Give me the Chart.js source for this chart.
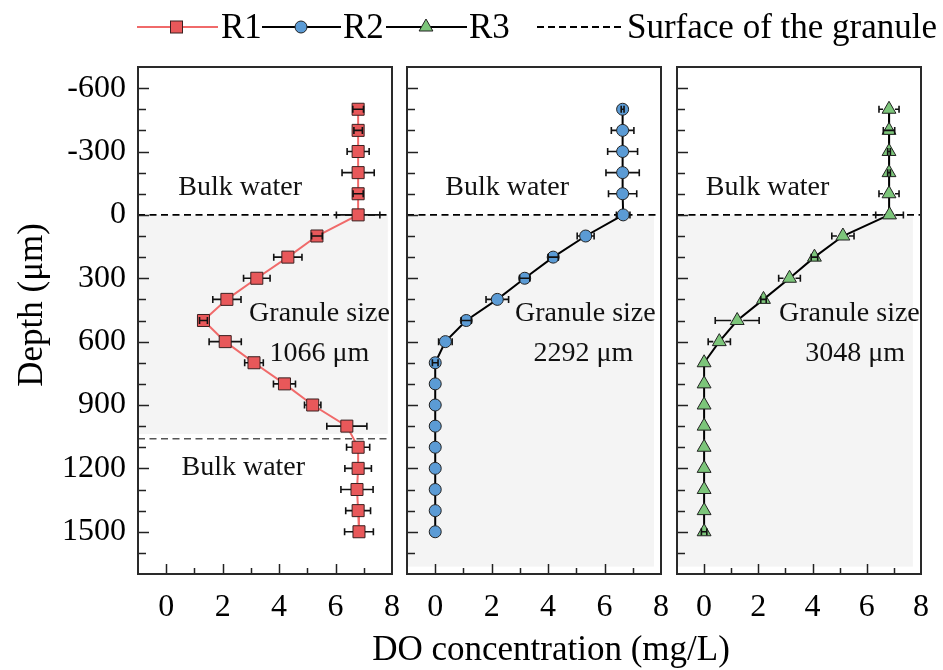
<!DOCTYPE html>
<html><head><meta charset="utf-8">
<script src="https://cdn.jsdelivr.net/npm/chart.js@4.4.0/dist/chart.umd.min.js"></script>
<style>
html,body{margin:0;padding:0;background:#fff;}
#wrap{position:relative;width:943px;height:670px;overflow:hidden;}
#wrap canvas{position:absolute;left:0;top:0;}
</style></head><body>
<div id="wrap">
<canvas id="c1" width="943" height="670"></canvas>
<canvas id="c2" width="943" height="670"></canvas>
<canvas id="c3" width="943" height="670"></canvas>
</div>
<script>
// ---------- data ----------
const depths = [-500,-400,-300,-200,-100,0,100,200,300,400,500,600,700,800,900,1000,1100,1200,1300,1400,1500];
const r1DO  = [6.80,6.80,6.80,6.80,6.80,6.80,5.34,4.31,3.21,2.15,1.32,2.09,3.11,4.19,5.19,6.40,6.80,6.80,6.76,6.80,6.83];
const r1Err = [0.19,0.15,0.39,0.57,0.18,0.77,0.19,0.50,0.47,0.50,0.14,0.57,0.33,0.39,0.29,0.71,0.41,0.47,0.57,0.44,0.51];
const r2DO  = [6.64,6.64,6.64,6.64,6.64,6.66,5.33,4.18,3.17,2.20,1.10,0.36,0,0,0,0,0,0,0,0,0];
const r2Err = [0.05,0.40,0.53,0.59,0.50,0.24,0.30,0.18,0.18,0.40,0.18,0.24,0.10,0,0,0,0,0,0,0,0];
const r3DO  = [6.82,6.82,6.82,6.82,6.82,6.84,5.12,4.07,3.15,2.19,1.22,0.56,0,0,0,0,0,0,0,0,0];
const r3Err = [0.37,0.21,0.05,0.05,0.37,0.51,0.41,0.12,0.40,0.10,0.81,0.41,0,0,0,0,0,0,0,0,0.10];
const r1Surfaces = [0, 1060];
const r2Surfaces = [0];
const r3Surfaces = [0];
const granuleSizes = ['1066 μm', '2292 μm', '3048 μm'];
const xTickLabels = ['0','2','4','6','8'];
const yTickLabels = ['-600','-300','0','300','600','900','1200','1500'];

// ---------- setup ----------
const FONT = "'Liberation Serif','Times New Roman',serif";
Chart.defaults.font.family = FONT;
Chart.defaults.color = '#000';
Chart.defaults.animation = false;

const panelPlugin = {
  id: 'panel',
  beforeDatasetsDraw(chart, args, o) {
    const {ctx, chartArea: a, scales: {x, y}} = chart;
    ctx.save();
    ctx.fillStyle = '#f4f4f4';
    const x1 = x.getPixelForValue(o.shadeRight);
    const y0 = y.getPixelForValue(o.shadeTop), y1 = y.getPixelForValue(o.shadeBottom);
    ctx.fillRect(a.left, y0, x1 - a.left, y1 - y0);
    ctx.font = '28px ' + FONT;
    ctx.fillStyle = '#111';
    ctx.textAlign = 'center';
    ctx.textBaseline = 'middle';
    o.notes.forEach(n => ctx.fillText(n.t, x.getPixelForValue(n.x), y.getPixelForValue(n.y)));
    ctx.restore();
  },
  afterDatasetsDraw(chart, args, o) {
    const {ctx, chartArea: a, scales: {x, y}} = chart;
    ctx.save();
    ctx.strokeStyle = '#111';
    ctx.lineWidth = 1.6;
    chart.data.datasets.forEach((ds, di) => {
      if (!ds.errX) return;
      const meta = chart.getDatasetMeta(di);
      meta.data.forEach((pt, i) => {
        const e = ds.errX[i];
        if (!e) return;
        const px = pt.x, py = pt.y;
        const ep = x.getPixelForValue(ds.data[i].x + e) - px;
        const r = ds.markerHalf || 5;
        ctx.beginPath();
        if (ep > r) {
          ctx.moveTo(px - ep, py); ctx.lineTo(px - r, py);
          ctx.moveTo(px + r, py); ctx.lineTo(px + ep, py);
        } else {
          ctx.moveTo(px - ep, py); ctx.lineTo(px + ep, py);
        }
        ctx.moveTo(px - ep, py - 3.5); ctx.lineTo(px - ep, py + 3.5);
        ctx.moveTo(px + ep, py - 3.5); ctx.lineTo(px + ep, py + 3.5);
        ctx.stroke();
      });
    });
    ctx.restore();
  },
  afterDraw(chart) {
    const {ctx, chartArea: a, scales: {x, y}} = chart;
    ctx.save();
    ctx.strokeStyle = '#222';
    ctx.lineWidth = 1.5;
    ctx.beginPath();
    x.ticks.forEach(t => {
      const v = t.value;
      if (v <= x.min || v >= x.max) return;
      const len = (v % 2 === 0) ? 10 : 6;
      const px = Math.round(x.getPixelForValue(v)) + 0.5;
      ctx.moveTo(px, a.bottom); ctx.lineTo(px, a.bottom - len);
    });
    y.ticks.forEach(t => {
      const v = t.value;
      if (v <= y.min || v >= y.max) return;
      const len = (v % 300 === 0) ? 11 : 8;
      const py = Math.round(y.getPixelForValue(v)) + 0.5;
      ctx.moveTo(a.left, py); ctx.lineTo(a.left + len, py);
    });
    ctx.stroke();
    ctx.lineWidth = 2;
    ctx.strokeStyle = '#2a2a2a';
    ctx.strokeRect(a.left, a.top, a.right - a.left, a.bottom - a.top);
    ctx.restore();
  }
};

const legendPlugin = {
  id: 'figLegend',
  afterDraw(chart) {
    const ctx = chart.ctx;
    ctx.save();
    const ly = 27;
    ctx.lineWidth = 2;
    // R1
    ctx.strokeStyle = '#f06a6a';
    ctx.beginPath(); ctx.moveTo(137, ly); ctx.lineTo(218, ly); ctx.stroke();
    ctx.fillStyle = '#e8585a'; ctx.strokeStyle = '#3a2020'; ctx.lineWidth = 1;
    ctx.fillRect(170.5, ly - 6, 12, 12); ctx.strokeRect(170.5, ly - 6, 12, 12);
    // R2
    ctx.lineWidth = 2; ctx.strokeStyle = '#000';
    ctx.beginPath(); ctx.moveTo(262, ly); ctx.lineTo(341, ly); ctx.stroke();
    ctx.fillStyle = '#5b9bd5'; ctx.lineWidth = 1; ctx.strokeStyle = '#222';
    ctx.beginPath(); ctx.arc(301, ly, 6, 0, Math.PI * 2); ctx.fill(); ctx.stroke();
    // R3
    ctx.lineWidth = 2; ctx.strokeStyle = '#000';
    ctx.beginPath(); ctx.moveTo(386, ly); ctx.lineTo(467, ly); ctx.stroke();
    ctx.fillStyle = '#7cc57a'; ctx.lineWidth = 1; ctx.strokeStyle = '#222';
    ctx.beginPath(); ctx.moveTo(426, ly - 8); ctx.lineTo(432.9, ly + 4); ctx.lineTo(419.1, ly + 4); ctx.closePath(); ctx.fill(); ctx.stroke();
    // dashed
    ctx.lineWidth = 2; ctx.strokeStyle = '#000'; ctx.setLineDash([7, 4]);
    ctx.beginPath(); ctx.moveTo(537, ly); ctx.lineTo(621, ly); ctx.stroke();
    ctx.setLineDash([]);
    // texts
    ctx.fillStyle = '#000';
    ctx.font = '35px ' + FONT;
    ctx.textBaseline = 'alphabetic';
    ctx.textAlign = 'left';
    ctx.fillText('R1', 221, 38);
    ctx.fillText('R2', 343, 38);
    ctx.fillText('R3', 469, 38);
    ctx.fillText('Surface of the granule', 627, 38);
    // axis titles
    ctx.textAlign = 'center';
    ctx.textBaseline = 'middle';
    ctx.fillText('DO concentration (mg/L)', 551, 651);
    ctx.translate(33, 305);
    ctx.rotate(-Math.PI / 2);
    ctx.fillText('Depth (μm)', 0, 0);
    ctx.restore();
  }
};

function xAxis() {
  return {
    type: 'linear', min: -1, max: 8,
    grid: {display: false, drawTicks: false}, border: {display: false},
    ticks: {stepSize: 1, autoSkip: false, maxRotation: 0, padding: 14, font: {size: 32},
      callback: v => xTickLabels.includes(String(v)) ? String(v) : ''},
    afterFit: s => { s.height = 96; }
  };
}
function yAxis(show) {
  return {
    type: 'linear', min: -700, max: 1700, reverse: true,
    grid: {display: false, drawTicks: false}, border: {display: false},
    ticks: {display: show, stepSize: 100, autoSkip: false, padding: 12, font: {size: 32},
      callback: v => yTickLabels.includes(String(v)) ? String(v) : ''},
    afterFit: s => { s.width = show ? 138 : 0; }
  };
}

function makePanel(id, pad, showY, series, surfaces, style, panelOpts, extraPlugins) {
  const datasets = [Object.assign({
    data: depths.map((d, i) => ({x: series.values[i], y: d})),
    errX: series.errors,
    showLine: true,
    order: 0
  }, style)];
  surfaces.forEach((s, k) => datasets.push({
    data: [{x: -1, y: s}, {x: 8, y: s}],
    showLine: true, pointRadius: 0, borderWidth: 1.6,
    borderColor: k === 0 ? '#000' : '#555', borderDash: [7, 4.5], order: 1
  }));
  return new Chart(document.getElementById(id), {
    type: 'scatter',
    data: {datasets},
    options: {
      responsive: false, animation: false,
      layout: {padding: pad},
      events: [],
      plugins: {legend: {display: false}, tooltip: {enabled: false}, panel: panelOpts},
      scales: {x: xAxis(), y: yAxis(showY)}
    },
    plugins: [panelPlugin].concat(extraPlugins || [])
  });
}

makePanel('c1', {left: 0, right: 551, top: 67, bottom: 0}, true,
  {values: r1DO, errors: r1Err}, r1Surfaces,
  {borderColor: '#f06a6a', borderWidth: 2, pointStyle: 'rect', pointRadius: 8.5,
   pointBackgroundColor: '#e8585a', pointBorderColor: '#3a2020', pointBorderWidth: 1, markerHalf: 6},
  {shadeRight: 7.85, shadeTop: 0, shadeBottom: 1037,
   notes: [{t: 'Bulk water', x: 2.62, y: -128}, {t: 'Granule size', x: 5.43, y: 468},
           {t: granuleSizes[0], x: 5.43, y: 658}, {t: 'Bulk water', x: 2.73, y: 1197}]},
  [legendPlugin]);

makePanel('c2', {left: 407, right: 282, top: 67, bottom: 0}, false,
  {values: r2DO, errors: r2Err}, r2Surfaces,
  {borderColor: '#000', borderWidth: 2, pointStyle: 'circle', pointRadius: 6,
   pointBackgroundColor: '#5b9bd5', pointBorderColor: '#222', pointBorderWidth: 1, markerHalf: 6},
  {shadeRight: 7.75, shadeTop: 0, shadeBottom: 1665,
   notes: [{t: 'Bulk water', x: 2.55, y: -128}, {t: 'Granule size', x: 5.32, y: 468},
           {t: granuleSizes[1], x: 5.25, y: 658}]});

makePanel('c3', {left: 677, right: 12, top: 67, bottom: 0}, false,
  {values: r3DO, errors: r3Err}, r3Surfaces,
  {borderColor: '#000', borderWidth: 2, pointStyle: 'triangle', pointRadius: 8,
   pointBackgroundColor: '#7cc57a', pointBorderColor: '#222', pointBorderWidth: 1, markerHalf: 6},
  {shadeRight: 7.7, shadeTop: 0, shadeBottom: 1665,
   notes: [{t: 'Bulk water', x: 2.34, y: -128}, {t: 'Granule size', x: 5.36, y: 468},
           {t: granuleSizes[2], x: 5.57, y: 658}]});
</script>
</body></html>
